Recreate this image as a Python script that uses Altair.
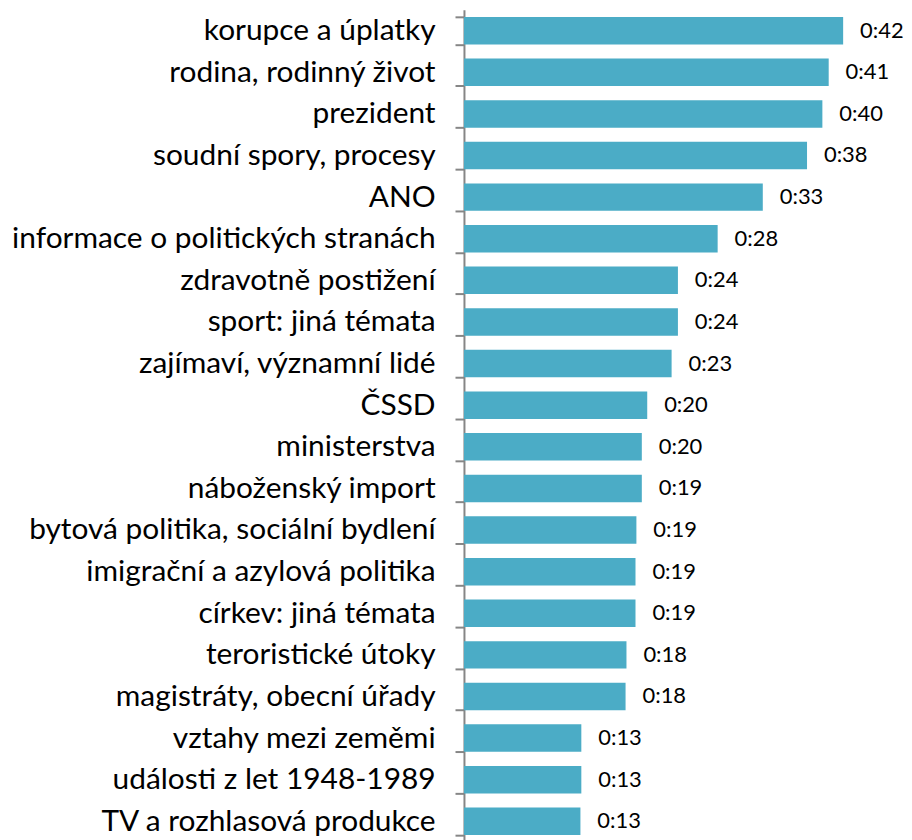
import altair as alt
import pandas as pd

categories = [
    "korupce a úplatky",
    "rodina, rodinný život",
    "prezident",
    "soudní spory, procesy",
    "ANO",
    "informace o politických stranách",
    "zdravotně postižení",
    "sport: jiná témata",
    "zajímaví, významní lidé",
    "ČSSD",
    "ministerstva",
    "náboženský import",
    "bytová politika, sociální bydlení",
    "imigrační a azylová politika",
    "církev: jiná témata",
    "teroristické útoky",
    "magistráty, obecní úřady",
    "vztahy mezi zeměmi",
    "události z let 1948-1989",
    "TV a rozhlasová produkce",
]
seconds = [42.0, 40.4, 39.7, 38.0, 33.1, 28.1, 23.7, 23.7, 23.0, 20.3,
           19.7, 19.7, 19.1, 19.0, 19.0, 18.0, 17.9, 13.0, 13.0, 12.9]
labels = ["0:42", "0:41", "0:40", "0:38", "0:33", "0:28", "0:24", "0:24", "0:23", "0:20",
          "0:20", "0:19", "0:19", "0:19", "0:19", "0:18", "0:18", "0:13", "0:13", "0:13"]

df = pd.DataFrame({"topic": categories, "sec": seconds, "lbl": labels})

base = alt.Chart(df).encode(
    y=alt.Y(
        "topic:N",
        sort=categories,
        scale=alt.Scale(paddingInner=0.34, paddingOuter=0.17),
        axis=alt.Axis(
            title=None,
            labelFont="Lato",
            labelFontSize=30,
            labelColor="#000000",
            labelPadding=20,
            labelLimit=0,
            tickSize=9,
            tickColor="#868686",
            tickWidth=2,
            domainColor="#868686",
            domainWidth=2,
            tickBand="extent",
        ),
    ),
    x=alt.X("sec:Q", scale=alt.Scale(domain=[0, 48.3]), axis=None),
)

bars = base.mark_bar(color="#4BACC6")
text = base.mark_text(align="left", baseline="middle", dx=17, font="Lato", fontSize=22, color="#000000").encode(
    text="lbl:N"
)

chart = (
    (bars + text)
    .properties(
        width=438,
        height=836,
        autosize=alt.AutoSizeParams(type="none"),
        padding={"left": 458, "top": 0, "right": 4, "bottom": 0},
    )
    .configure_view(stroke=None)
)

chart.save("out.html", embed_options={"renderer": "svg", "actions": False})
